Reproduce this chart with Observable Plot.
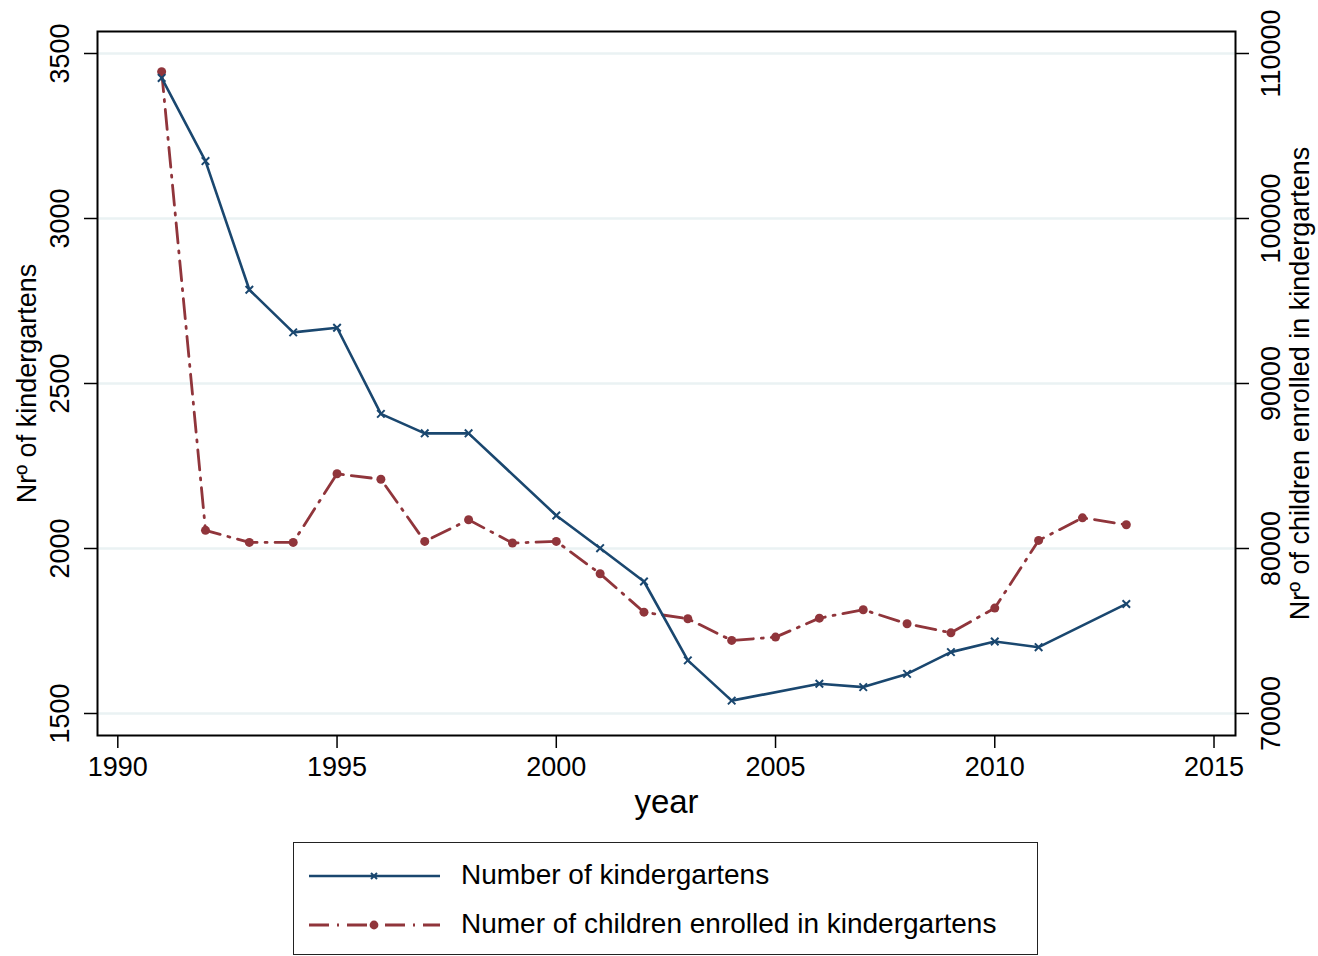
<!DOCTYPE html>
<html>
<head>
<meta charset="utf-8">
<script src="https://cdn.jsdelivr.net/npm/d3@7"></script>
<script src="https://cdn.jsdelivr.net/npm/@observablehq/plot@0.6"></script>
<style>
  html, body { margin: 0; padding: 0; background: #fff; }
  body { width: 1318px; height: 956px; position: relative; overflow: hidden; font-family: "Liberation Sans", Arial, Helvetica, sans-serif; }
  #chart { position: absolute; left: 0; top: 0; }
  #legend { position: absolute; left: 293px; top: 842px; width: 745px; height: 113px; border: 1.5px solid #222; box-sizing: border-box; }
  .row { position: absolute; left: 0; height: 30px; display: flex; align-items: center; }
  .row svg { position: absolute; left: 15px; top: 0; }
  .row span { position: absolute; left: 167px; font-size: 28px; white-space: nowrap; color: #000; top: -2px; }
</style>
</head>
<body>
<div id="chart"></div>
<div id="legend">
  <div class="row" style="top:18px"><svg width="135" height="30"><line x1="0" x2="131" y1="15" y2="15" stroke="#1a476f" stroke-width="2.6"/><path d="M62,12 L68,18 M68,12 L62,18" stroke="#1a476f" stroke-width="2"/></svg><span>Number of kindergartens</span></div>
  <div class="row" style="top:67px"><svg width="135" height="30"><line x1="0" x2="131" y1="15" y2="15" stroke="#90353b" stroke-width="2.8" stroke-dasharray="20,8,2,8"/><circle cx="65" cy="15" r="4.4" fill="#90353b"/></svg><span>Numer of children enrolled in kindergartens</span></div>
</div>
<script>
// ---- data ----
const kgYears = [1991, 1992, 1993, 1994, 1995, 1996, 1997, 1998, 2000, 2001, 2002, 2003, 2004, 2006, 2007, 2008, 2009, 2010, 2011, 2013];
const kgValues = [3426, 3174, 2784, 2655, 2669, 2408, 2349, 2349, 2100, 2001, 1900, 1661, 1539, 1590, 1580, 1620, 1686, 1718, 1701, 1832];

const childYears = [1991, 1992, 1993, 1994, 1995, 1996, 1997, 1998, 1999, 2000, 2001, 2002, 2003, 2004, 2005, 2006, 2007, 2008, 2009, 2010, 2011, 2012, 2013];
const childValues = [108900, 81100, 80370, 80370, 84530, 84200, 80430, 81740, 80330, 80430, 78470, 76140, 75740, 74430, 74630, 75780, 76290, 75440, 74890, 76390, 80490, 81860, 81440];

const xTicks = [1990, 1995, 2000, 2005, 2010, 2015];
const leftTicks = [1500, 2000, 2500, 3000, 3500];
const rightTicks = [70000, 80000, 90000, 100000, 110000];

const titleX = "year";
const titleLeft = "Nrº of kindergartens";
const titleRight = "Nrº of children enrolled in kindergartens";

// ---- mapping of right axis onto left scale ----
const toLeft = c => 1500 + (c - 70000) / 20;
const toRight = v => 70000 + (v - 1500) * 20;

const blue = "#1a476f", red = "#90353b", grid = "#eaf2f3";

const kg = kgYears.map((y, i) => ({year: y, value: kgValues[i]}));
const ch = childYears.map((y, i) => ({year: y, value: toLeft(childValues[i])}));

const chart = Plot.plot({
  width: 1318,
  height: 830,
  marginLeft: 97,
  marginRight: 83,
  marginTop: 31,
  marginBottom: 95,
  style: {fontFamily: "'Liberation Sans', Arial, Helvetica, sans-serif", fontSize: "27px", color: "#000", background: "#fff"},
  x: {domain: [1989.537, 2015.49]},
  y: {domain: [1433.33, 3566.67]},
  marks: [
    Plot.ruleY(leftTicks, {stroke: grid, strokeWidth: 2.5}),
    Plot.axisX({ticks: xTicks, tickSize: 13, tickPadding: 8, tickFormat: d => String(d), label: null, fontSize: 27, strokeWidth: 1.5}),
    Plot.axisY({anchor: "left", ticks: leftTicks, tickSize: 13, tickPadding: 16, tickRotate: -90, tickFormat: d => String(d), label: null, fontSize: 27, strokeWidth: 1.5}),
    Plot.axisY({anchor: "right", ticks: rightTicks.map(toLeft), tickSize: 13, tickPadding: 31, tickRotate: -90, tickFormat: d => String(Math.round(toRight(d))), label: null, fontSize: 27, strokeWidth: 1.5}),
    Plot.frame({stroke: "#000", strokeWidth: 2}),
    Plot.line(ch, {x: "year", y: "value", stroke: red, strokeWidth: 2.8, strokeDasharray: "20,8,2,8"}),
    Plot.dot(ch, {x: "year", y: "value", r: 4.5, fill: red}),
    Plot.line(kg, {x: "year", y: "value", stroke: blue, strokeWidth: 2.6}),
    Plot.dot(kg, {x: "year", y: "value", symbol: "times", r: 3.5, stroke: blue, strokeWidth: 2}),
    Plot.text([titleX], {frameAnchor: "bottom", dy: 77, text: d => d, fontSize: 33, fill: "#000"}),
    Plot.text([titleLeft], {frameAnchor: "left", dx: -70, rotate: -90, textAnchor: "middle", text: d => d, fontSize: 27, fill: "#000"}),
    Plot.text([titleRight], {frameAnchor: "right", dx: 65, rotate: -90, textAnchor: "middle", text: d => d, fontSize: 27, fill: "#000"})
  ]
});
document.getElementById("chart").appendChild(chart);
</script>
</body>
</html>
